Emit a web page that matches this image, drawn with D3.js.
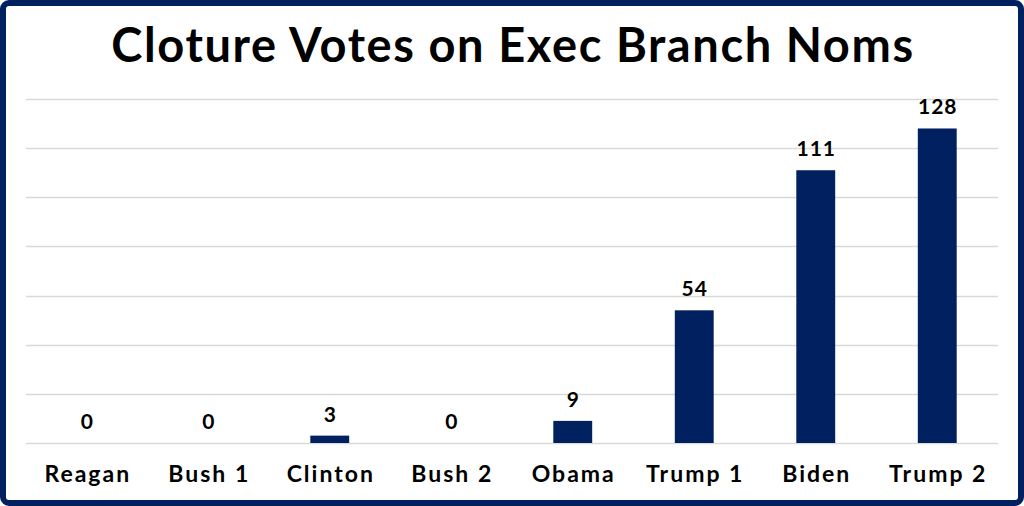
<!DOCTYPE html>
<html>
<head>
<meta charset="utf-8">
<script src="https://cdn.jsdelivr.net/npm/d3@7"></script>
<style>
  html, body { margin: 0; padding: 0; background: #fff; }
  svg { display: block; font-family: 'Lato', 'Open Sans', sans-serif; }
</style>
</head>
<body>
<div id="chart"></div>
<script>
const categories = ['Reagan', 'Bush 1', 'Clinton', 'Bush 2', 'Obama', 'Trump 1', 'Biden', 'Trump 2'];
const votes = [0, 0, 3, 0, 9, 54, 111, 128];
const gridTicks = [0, 20, 40, 60, 80, 100, 120, 140];
const title = 'Cloture Votes on Exec Branch Noms';

const WIDTH = 1024;
const HEIGHT = 506;
const NAVY = '#002060';
const margin = { top: 99, right: 26, bottom: 63, left: 26 };

const svg = d3.select('#chart')
  .append('svg')
  .attr('width', WIDTH)
  .attr('height', HEIGHT);

// frame
svg.append('rect')
  .attr('x', 3)
  .attr('y', 3)
  .attr('width', WIDTH - 6)
  .attr('height', HEIGHT - 6)
  .attr('rx', 6)
  .attr('fill', '#fff')
  .attr('stroke', NAVY)
  .attr('stroke-width', 6);

// letter-spacing adds trailing space, so nudge by half of it to stay centred
svg.append('text')
  .attr('x', WIDTH / 2 + 1)
  .attr('y', 62)
  .attr('text-anchor', 'middle')
  .attr('font-size', '47px')
  .attr('font-weight', 700)
  .attr('letter-spacing', '1.6px')
  .attr('fill', '#000')
  .text(title);

const x = d3.scaleBand()
  .domain(categories)
  .range([margin.left, WIDTH - margin.right])
  .paddingInner(0.68)
  .paddingOuter(0.34);

const y = d3.scaleLinear()
  .domain([0, 140])
  .range([HEIGHT - margin.bottom, margin.top]);

const g = svg.append('g');

// gridlines
g.selectAll('line.grid')
  .data(gridTicks)
  .join('line')
  .attr('class', 'grid')
  .attr('x1', margin.left)
  .attr('x2', WIDTH - margin.right)
  .attr('y1', (d) => Math.round(y(d)) + 0.5)
  .attr('y2', (d) => Math.round(y(d)) + 0.5)
  .attr('stroke', '#d9d9d9')
  .attr('stroke-width', 1.5);

g.selectAll('rect.bar')
  .data(votes)
  .join('rect')
  .attr('class', 'bar')
  .attr('x', (d, i) => x(categories[i]))
  .attr('y', (d) => y(d))
  .attr('width', x.bandwidth())
  .attr('height', (d) => y(0) - y(d))
  .attr('fill', NAVY);

g.selectAll('text.val')
  .data(votes)
  .join('text')
  .attr('class', 'val')
  .attr('x', (d, i) => x(categories[i]) + x.bandwidth() / 2 + 0.5)
  .attr('y', (d) => y(d) - 14)
  .attr('text-anchor', 'middle')
  .attr('font-size', '21px')
  .attr('font-weight', 700)
  .attr('letter-spacing', '1px')
  .attr('fill', '#000')
  .text((d) => d);

// category axis
const xAxis = g.append('g')
  .attr('transform', `translate(0,${y(0)})`)
  .call(d3.axisBottom(x).tickSize(0).tickPadding(0));
xAxis.select('.domain').remove();
xAxis.selectAll('text')
  .attr('dy', null)
  .attr('x', 1)
  .attr('y', 39)
  .attr('font-family', "'Lato', 'Open Sans', sans-serif")
  .attr('font-size', '23px')
  .attr('font-weight', 700)
  .attr('letter-spacing', '2px')
  .attr('fill', '#000');
</script>
</body>
</html>
